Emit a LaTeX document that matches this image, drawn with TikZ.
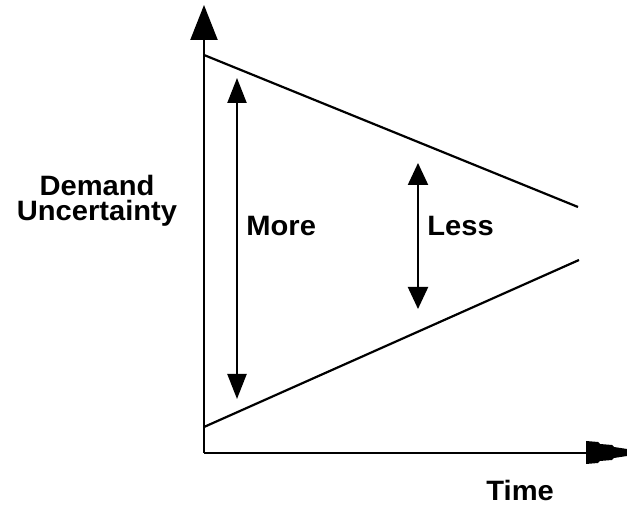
\documentclass[tikz,border=0pt]{standalone}
\usepackage{fontspec}
\setmainfont{Liberation Sans}[FakeStretch=1.04]
\usetikzlibrary{arrows.meta}
\tikzset{
  lbl/.style={font=\fontsize{14pt}{12.5pt}\selectfont\bfseries, inner sep=0pt},
  lineb/.style={line width=1.1pt, black},
  bigtip/.style={-{Triangle[width=13.5pt,length=17.5pt]}},
  dbl/.style={{Triangle[width=9.5pt,length=12.5pt]}-{Triangle[width=9.5pt,length=12.5pt]}},
  dbls/.style={{Triangle[width=10pt,length=11pt]}-{Triangle[width=10pt,length=11pt]}}
}
\begin{document}
\begin{tikzpicture}[x=0.5pt,y=-0.5pt]
\useasboundingbox (0,0) rectangle (627,506);
% axes
\coordinate (O) at (204,453);
\coordinate (Ytop) at (204,5);
\coordinate (Xend) at (590,453);
\draw[lineb, bigtip] (O) -- (Ytop);
\draw[lineb] (O) -- (Xend);
\fill (586,441) -- (598,442) -- (600,444) -- (612,445) -- (614,447) -- (627,449)
  -- (627,456) -- (614,458) -- (612,460) -- (600,461) -- (598,463) -- (586,464) -- cycle;
% funnel lines
\coordinate (U1) at (204,55);
\coordinate (U2) at (578,207);
\coordinate (L1) at (204,427);
\coordinate (L2) at (579,260);
\draw[lineb] (U1) -- (U2);
\draw[lineb] (L1) -- (L2);
% double arrows
\coordinate (M1) at (237,78);
\coordinate (M2) at (237,399);
\draw[lineb, dbl] (M1) -- (M2);
\coordinate (S1) at (418,163);
\coordinate (S2) at (418,309);
\draw[lineb, dbls] (S1) -- (S2);
% labels
\node[lbl, align=center, anchor=base] (du) at (97,221) {Demand\\Uncertainty};
\node[lbl, anchor=base west] (more) at (246,236) {More};
\node[lbl, anchor=base west] (less) at (427,236) {Less};
\node[lbl, anchor=base west] (time) at (486,501) {Time};
\end{tikzpicture}
\end{document}
